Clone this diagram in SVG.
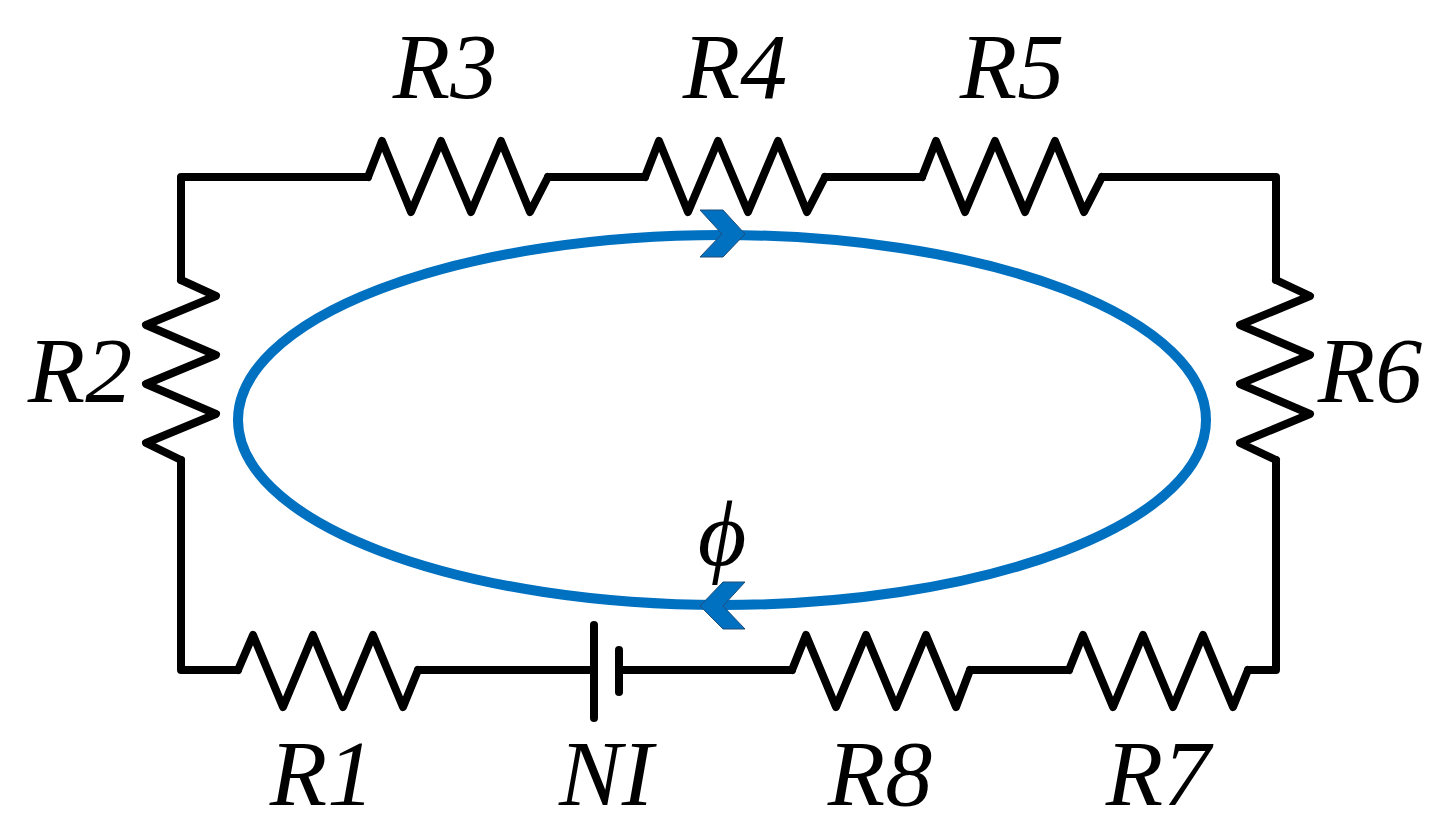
<svg xmlns="http://www.w3.org/2000/svg" width="1440" height="838" viewBox="0 0 1440 838">
<style>
.w{fill:none;stroke:#000;stroke-width:8;stroke-linejoin:round;stroke-linecap:round}
.t{font-family:"Liberation Serif","Times New Roman",serif;font-style:italic;font-size:94px;fill:#000}
.a{fill:#0070c0;stroke:#1f4e79;stroke-width:1}
</style>
<rect width="1440" height="838" fill="#fff"/>
<g id="connectors">
<polyline class="w" points="368,177 181,177 181,280"/>
<polyline class="w" points="548,177 645,177"/>
<polyline class="w" points="825,177 922,177"/>
<polyline class="w" points="1102,177 1276,177 1276,280"/>
<polyline class="w" points="181,460 181,670 238,670"/>
<polyline class="w" points="418,670 594,670"/>
<polyline class="w" points="619,670 792,670"/>
<polyline class="w" points="970,670 1069,670"/>
<polyline class="w" points="1248,670 1276,670 1276,460"/>
</g>
<g id="R3"><polyline class="w" points="368,177 382,141 411,212 441,141 471,212 501,141 530,212 548,177"/><text class="t" x="445" y="98" text-anchor="middle">R3</text></g>
<g id="R4"><polyline class="w" points="645,177 659,141 688,212 718,141 748,212 778,141 807,212 825,177"/><text class="t" x="735" y="98" text-anchor="middle">R4</text></g>
<g id="R5"><polyline class="w" points="922,177 936,141 965,212 995,141 1025,212 1055,141 1084,212 1102,177"/><text class="t" x="1012" y="98" text-anchor="middle">R5</text></g>
<g id="R2"><polyline class="w" points="181,280 216,296 146,325 216,355 146,384 216,414 146,443 181,460"/><text class="t" x="80" y="402" text-anchor="middle">R2</text></g>
<g id="R6"><polyline class="w" points="1276,280 1310,296 1240,325 1310,355 1240,384 1310,414 1240,443 1276,460"/><text class="t" x="1370" y="402" text-anchor="middle">R6</text></g>
<g id="R1"><polyline class="w" points="238,670 253,635 283,707 313,635 343,707 373,635 403,707 418,670"/><text class="t" x="322" y="805" text-anchor="middle">R1</text></g>
<g id="NI"><line class="w" x1="594" y1="625" x2="594" y2="718"/><line class="w" x1="619" y1="650" x2="619" y2="692"/><text class="t" x="606" y="805" text-anchor="middle">NI</text></g>
<g id="R8"><polyline class="w" points="792,670 806,635 836,707 866,635 896,707 926,635 956,707 970,670"/><text class="t" x="880" y="805" text-anchor="middle">R8</text></g>
<g id="R7"><polyline class="w" points="1069,670 1083,635 1113,707 1143,635 1173,707 1203,635 1233,707 1248,670"/><text class="t" x="1158" y="805" text-anchor="middle">R7</text></g>
<g id="flux">
<ellipse cx="722" cy="420" rx="484" ry="185" fill="none" stroke="#0070c0" stroke-width="10"/>
<polygon class="a" points="700,210 723,210 745,234 723,257 700,257 722,234"/>
<polygon class="a" points="745,582 723,582 700,606 723,629 745,629 723,606"/>
<text class="t" x="722" y="565" text-anchor="middle">ϕ</text>
</g>
</svg>
